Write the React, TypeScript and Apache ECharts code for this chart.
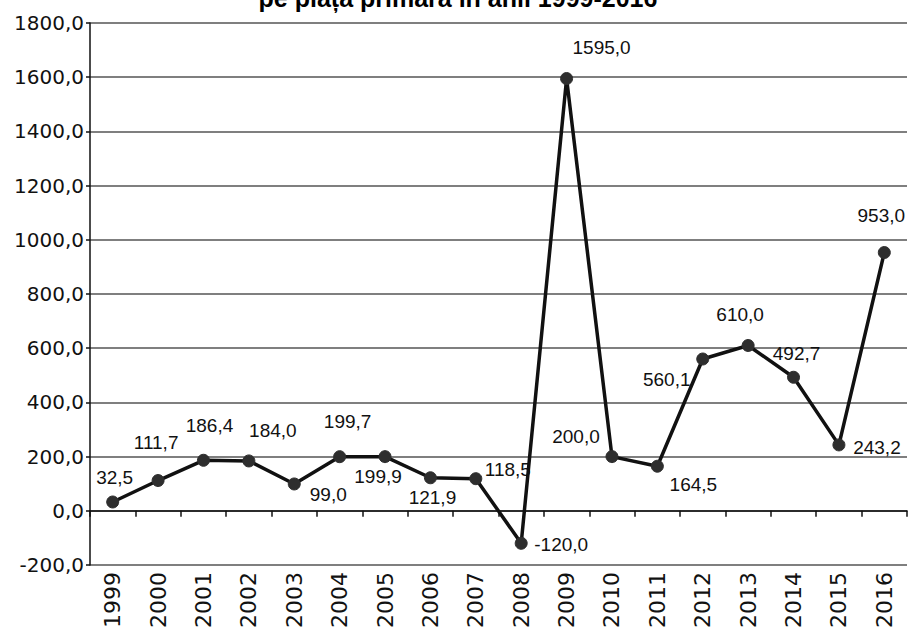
import React, { useEffect, useRef } from "react";
import * as echarts from "echarts";

const years = ["1999","2000","2001","2002","2003","2004","2005","2006","2007","2008","2009","2010","2011","2012","2013","2014","2015","2016"];
const values = [32.5, 111.7, 186.4, 184.0, 99.0, 199.7, 199.9, 121.9, 118.5, -120.0, 1595.0, 200.0, 164.5, 560.1, 610.0, 492.7, 243.2, 953.0];
const titleText = "pe piața primară în anii 1999-2016";
// label offsets (layout only), relative to each point's centre
const labelOffsets: [number, number][] = [
  [2, -24], [-2, -38], [6, -35], [24, -30], [34, 11], [8, -35], [-7, 20], [2, 20], [32, -9],
  [40, 1], [35, -31], [-36, -20], [36, 18], [-36, 20], [-8, -31], [3, -24], [38, 3], [-3, -37],
];

const fmt = (v: number) => v.toFixed(1).replace(".", ",");

export default function App() {
  const ref = useRef<HTMLDivElement>(null);
  useEffect(() => {
    if (!ref.current) return;
    const chart = echarts.init(ref.current, undefined, { renderer: "svg" });
    chart.setOption({
      animation: false,
      backgroundColor: "#ffffff",
      graphic: [
        {
          type: "text",
          x: 458,
          y: -2,
          style: {
            text: titleText,
            fill: "#000",
            font: "bold 25px 'Liberation Sans', Arial, sans-serif",
            textAlign: "center",
            textVerticalAlign: "middle",
          },
        },
      ],
      grid: { left: 90, right: 1, top: 23, bottom: 67, containLabel: false, outerBoundsMode: "none" },
      xAxis: {
        type: "category",
        data: years,
        boundaryGap: true,
        axisLine: { show: true, onZero: true, lineStyle: { color: "#111", width: 1.5 } },
        axisTick: { show: true, length: 6, lineStyle: { color: "#111", width: 1.5 } },
        axisLabel: {
          rotate: 90,
          margin: 7,
          fontFamily: "'DejaVu Sans', sans-serif",
          fontSize: 22,
          color: "#111",
          interval: 0,
        },
        splitLine: { show: false },
      },
      yAxis: {
        type: "value",
        min: -200,
        max: 1800,
        interval: 200,
        axisLine: { show: true, lineStyle: { color: "#111", width: 1.5 } },
        axisTick: { show: true, length: 4, lineStyle: { color: "#111", width: 1.5 } },
        axisLabel: {
          formatter: (v: number) => fmt(v),
          fontFamily: "'DejaVu Sans', sans-serif",
          fontSize: 20,
          color: "#111",
          margin: 6,
        },
        splitLine: { show: true, lineStyle: { color: "#555", width: 1.5 } },
      },
      series: [
        {
          type: "line",
          data: values.map((v, i) => ({
            value: v,
            label: { offset: labelOffsets[i] },
          })),
          lineStyle: { color: "#111", width: 3.5 },
          itemStyle: { color: "#2e2e2e", borderColor: "#2e2e2e" },
          symbol: "circle",
          symbolSize: 12,
          label: {
            show: true,
            position: "inside",
            formatter: (p: any) => fmt(p.value),
            fontFamily: "'Liberation Sans', Arial, sans-serif",
            fontSize: 19,
            color: "#111",
          },
          z: 3,
        },
      ],
    });
    return () => chart.dispose();
  }, []);
  return (
    <div
      ref={ref}
      style={{ position: "fixed", left: 0, top: 0, width: 908, height: 632, background: "#fff" }}
    />
  );
}
